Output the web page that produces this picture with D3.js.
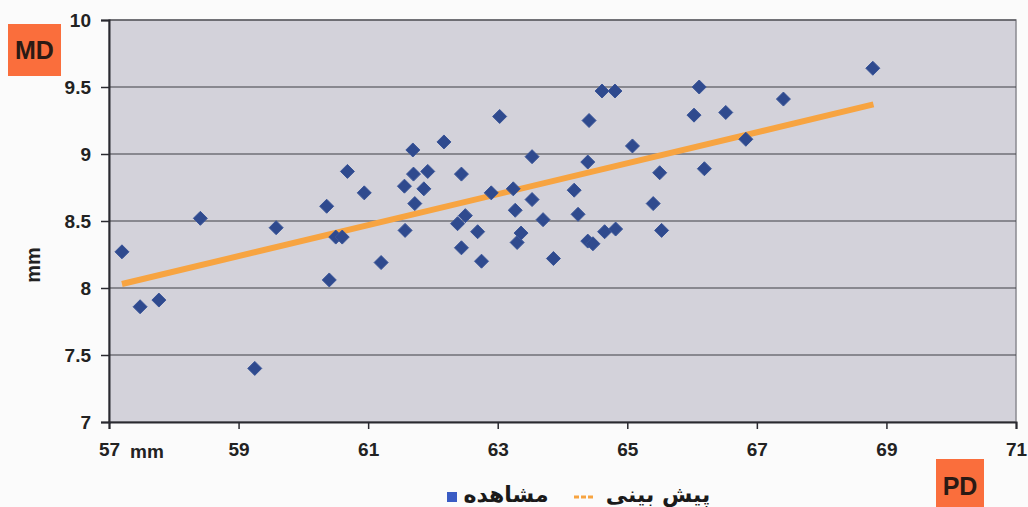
<!DOCTYPE html>
<html><head><meta charset="utf-8">
<script src="https://cdn.jsdelivr.net/npm/d3@7/dist/d3.min.js"></script>
<style>
html,body{margin:0;padding:0;background:#fbfbfb;}
svg{display:block;}
</style></head>
<body>
<svg id="c" width="1028" height="507"></svg>
<script>
// PD (mm) observed values
const pdValues = [57.2,57.48,57.77,58.41,59.25,59.58,60.36,60.40,60.50,60.60,60.68,60.94,61.2,61.56,61.57,61.69,61.70,61.72,61.86,61.92,62.17,62.38,62.44,62.44,62.50,62.69,62.75,62.90,63.03,63.24,63.27,63.30,63.36,63.53,63.53,63.70,63.86,64.18,64.24,64.39,64.39,64.41,64.47,64.61,64.65,64.81,64.82,65.08,65.40,65.50,65.53,66.03,66.11,66.19,66.52,66.83,67.41,68.79];
// MD (mm) observed values
const mdValues = [8.27,7.86,7.91,8.52,7.40,8.45,8.61,8.06,8.38,8.38,8.87,8.71,8.19,8.76,8.43,9.03,8.85,8.63,8.74,8.87,9.09,8.48,8.85,8.30,8.54,8.42,8.20,8.71,9.28,8.74,8.58,8.34,8.41,8.66,8.98,8.51,8.22,8.73,8.55,8.35,8.94,9.25,8.33,9.47,8.42,9.47,8.44,9.06,8.63,8.86,8.43,9.29,9.50,8.89,9.31,9.11,9.41,9.64];
// prediction line endpoints
const trendX = [57.2, 68.8];
const trendY = [8.03, 9.37];
const xTicks = [57,59,61,63,65,67,69,71];
const yTicks = [7,7.5,8,8.5,9,9.5,10];
const yTickLabels = ["7","7.5","8","8.5","9","9.5","10"];
const legendLabels = ["مشاهده","پیش بینی"];

const svg = d3.select("#c");
const x = d3.scaleLinear().domain([57,71]).range([109,1016]);
const y = d3.scaleLinear().domain([7,10]).range([422,20]);

// plot background
svg.append("rect").attr("x",x(57)).attr("y",y(10)).attr("width",x(71)-x(57)).attr("height",y(7)-y(10))
  .attr("fill","#d3d2da").attr("stroke","#8a8a90").attr("stroke-width",1.5);

// gridlines
svg.append("g").selectAll("line").data(yTicks.filter(v=>v>7)).join("line")
  .attr("x1",x(57)).attr("x2",x(71)).attr("y1",d=>y(d)).attr("y2",d=>y(d))
  .attr("stroke","#3e3e44").attr("stroke-width",1.2);

// y axis
const yAxis = svg.append("g").attr("transform",`translate(${x(57)},0)`)
  .call(d3.axisLeft(y).tickValues(yTicks).tickFormat((d,i)=>yTickLabels[i]).tickSize(8).tickPadding(10));
// x axis
const xAxis = svg.append("g").attr("transform",`translate(0,${y(7)})`)
  .call(d3.axisBottom(x).tickValues(xTicks).tickFormat(d3.format("d")).tickSize(7).tickPadding(14));
[yAxis,xAxis].forEach(g=>{
  g.select(".domain").attr("stroke","#2a2a30").attr("stroke-width",2);
  g.selectAll(".tick line").attr("stroke","#2a2a30").attr("stroke-width",1.5);
  g.selectAll(".tick text").attr("fill","#222").attr("font-family","Liberation Sans, Arial, sans-serif")
    .attr("font-weight","bold").attr("font-size",19);
});

// trend line
svg.append("line").attr("x1",x(trendX[0])).attr("y1",y(trendY[0])).attr("x2",x(trendX[1])).attr("y2",y(trendY[1]))
  .attr("stroke","#f7a441").attr("stroke-width",6).attr("stroke-linecap","butt");

// points (diamonds)
const pts = pdValues.map((v,i)=>[v,mdValues[i]]);
const s = 7;
svg.append("g").selectAll("path").data(pts).join("path")
  .attr("d",d=>{const cx=x(d[0]),cy=y(d[1]);return `M${cx},${cy-s}L${cx+s},${cy}L${cx},${cy+s}L${cx-s},${cy}Z`;})
  .attr("fill","#2f4a8e").attr("stroke","#3a5598").attr("stroke-width",1).attr("stroke-linejoin","round");

// axis unit labels
svg.append("text").attr("x",147).attr("y",y(7)+36).attr("text-anchor","middle")
  .attr("font-family","Liberation Sans, Arial, sans-serif").attr("font-weight","bold").attr("font-size",19).attr("fill","#222").text("mm");
svg.append("text").attr("transform","translate(40,265) rotate(-90)").attr("text-anchor","middle")
  .attr("font-family","Liberation Sans, Arial, sans-serif").attr("font-weight","bold").attr("font-size",20).attr("fill","#222").text("mm");

// MD box
svg.append("rect").attr("x",8).attr("y",24).attr("width",53).attr("height",52).attr("fill","#fa6e3c");
svg.append("text").attr("x",34.5).attr("y",59).attr("text-anchor","middle").attr("font-family","Liberation Sans, Arial, sans-serif")
  .attr("font-weight","bold").attr("font-size",25).attr("fill","#2a1a14").text("MD");
// PD box
svg.append("rect").attr("x",936).attr("y",459).attr("width",48).attr("height",50).attr("fill","#fa6e3c");
svg.append("text").attr("x",960).attr("y",495).attr("text-anchor","middle").attr("font-family","Liberation Sans, Arial, sans-serif")
  .attr("font-weight","bold").attr("font-size",25).attr("fill","#2a1a14").text("PD");

// legend
const lg = svg.append("g");
lg.append("rect").attr("x",447).attr("y",492).attr("width",10).attr("height",10).attr("fill","#3a5cc4");
lg.append("text").attr("x",506).attr("y",502).attr("text-anchor","middle").attr("direction","rtl")
  .attr("font-family","DejaVu Sans, sans-serif").attr("font-weight","bold").attr("font-size",22).attr("fill","#1a1a1a").text(legendLabels[0]);
lg.append("line").attr("x1",574).attr("x2",594).attr("y1",497).attr("y2",497)
  .attr("stroke","#f7a441").attr("stroke-width",3).attr("stroke-dasharray","5,2");
lg.append("text").attr("x",658).attr("y",502).attr("text-anchor","middle").attr("direction","rtl")
  .attr("font-family","DejaVu Sans, sans-serif").attr("font-weight","bold").attr("font-size",22).attr("fill","#1a1a1a").text(legendLabels[1]);
</script>
</body></html>
